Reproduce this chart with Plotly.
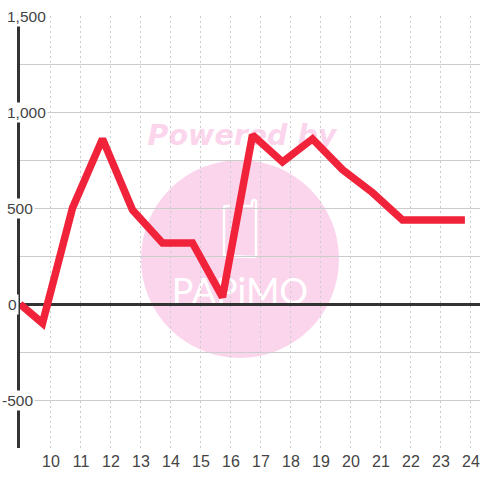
import plotly.graph_objects as go

hours = [9.0, 9.75, 10.75, 11.75, 12.75, 13.75, 14.75, 15.75, 16.75, 17.75, 18.75, 19.75, 20.75, 21.75, 22.75, 23.83]
values = [0, -100, 500, 860, 490, 318, 318, 36, 880, 740, 860, 700, 580, 437, 437, 437]
x_ticks = list(range(10, 25))
y_label_vals = [1500, 1000, 500, 0, -500]
y_label_text = ["1,500", "1,000", "500", "0", "-500"]
y_label_shift = [-15, -15, -15, -14, -20]

W, H = 480, 480
L, R, T, B = 20, 0, 16, 32
PW, PH = W - L - R, H - T - B
def px(x): return (x - L) / PW
def py(y): return 1 - (y - T) / PH

PINK = "#fbd5ec"
fig = go.Figure(go.Scatter(x=hours, y=values, mode="lines", cliponaxis=False,
                           line=dict(color="#f0233a", width=7.5), hoverinfo="skip"))

shapes = [
    dict(type="circle", xref="paper", yref="paper", layer="below",
         x0=px(141), x1=px(339), y0=py(358), y1=py(160), fillcolor=PINK, line_width=0),
    dict(type="path", xref="paper", yref="paper", layer="below", line=dict(color="white", width=2.5),
         path=f"M {px(230)} {py(206)} L {px(226)} {py(206)} Q {px(224)} {py(206)} {px(224)} {py(208)} "
              f"L {px(224)} {py(254)} Q {px(224)} {py(256)} {px(226)} {py(256)} L {px(254)} {py(257)} "
              f"Q {px(256)} {py(257)} {px(256)} {py(255)} L {px(256)} {py(202)} Q {px(256)} {py(200)} {px(254)} {py(200)} "
              f"Q {px(252)} {py(200)} {px(252)} {py(203)} L {px(252)} {py(206)} L {px(240)} {py(206)}"),
    dict(type="rect", xref="paper", yref="paper", layer="below", x0=px(140), x1=px(344), y0=py(149), y1=py(117),
         line_width=0, fillcolor="rgba(0,0,0,0)",
         label=dict(text="<b><i>Powered by</i></b>", textposition="middle center",
                    font=dict(family="DejaVu Sans", size=28.5, color=PINK))),
    dict(type="rect", xref="paper", yref="paper", layer="below", x0=px(160), x1=px(320), y0=py(312), y1=py(268),
         line_width=0, fillcolor="rgba(0,0,0,0)",
         label=dict(text="PAPiMO", textposition="middle center",
                    font=dict(family="Lato", size=36, color="white"))),
]

annotations = []
for v, t, s in zip(y_label_vals, y_label_text, y_label_shift):
    annotations.append(dict(x=0, xref="paper", xshift=s, xanchor="left", y=v, yref="y", yanchor="middle",
                            text=t, showarrow=False, bgcolor="white", borderpad=1,
                            font=dict(family="Liberation Sans", size=15.5, color="#444")))

fig.update_layout(
    width=W, height=H, autosize=False, showlegend=False,
    margin=dict(l=L, r=R, t=T, b=B, pad=0),
    paper_bgcolor="white", plot_bgcolor="white",
    shapes=shapes, annotations=annotations,
    xaxis=dict(range=[9, 9 + PW / 30], tickmode="array", tickvals=x_ticks,
               ticktext=[str(t) for t in x_ticks], ticks="", showgrid=True,
               gridcolor="#cccccc", griddash="2px,3px", gridwidth=1, zeroline=False,
               showline=False, ticklabelstandoff=2, ticklabelshift=1,
               tickfont=dict(family="Liberation Sans", size=16, color="#444")),
    yaxis=dict(range=[-750, 1500], tick0=-750, dtick=250, tickmode="linear", showticklabels=False,
               ticks="", showgrid=True, gridcolor="#cccccc", gridwidth=1,
               zeroline=True, zerolinecolor="#333333", zerolinewidth=3,
               showline=True, linecolor="#333333", linewidth=3),
)
fig.write_html("out.html", config=dict(displayModeBar=False),
               post_script="document.body.style.margin='0';document.body.style.overflow='hidden';")
